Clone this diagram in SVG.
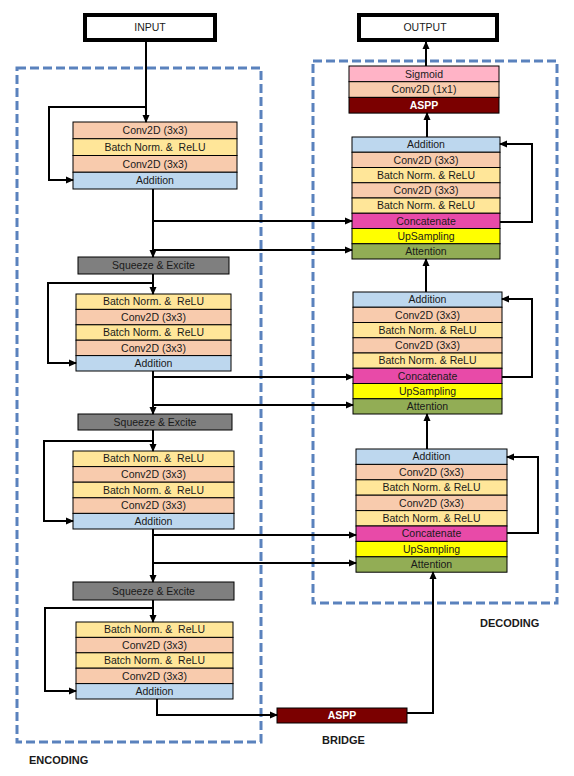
<svg xmlns="http://www.w3.org/2000/svg" width="574" height="776" viewBox="0 0 574 776">
<style>
text{font-family:"Liberation Sans",Arial,sans-serif;font-size:10.5px;fill:#1a1a1a;text-anchor:middle;white-space:pre}
.r{stroke:#000;stroke-width:1}
.conv{fill:#f8cbad}.bn{fill:#ffe699}.add{fill:#bdd7ee}.se{fill:#7f7f7f}.cat{fill:#e84aa8}.up{fill:#ffff00}.att{fill:#92ad55}.sig{fill:#ffb3c6}.aspp{fill:#7b0000}
.w{fill:#fff;font-weight:bold}
.lbl{font-weight:bold;font-size:11px;text-anchor:start}
.io{fill:#fff;stroke:#000;stroke-width:4}
.dash{fill:none;stroke:#5a82bd;stroke-width:3;stroke-dasharray:9 4}
.c{fill:none;stroke:#000;stroke-width:2;marker-end:url(#ah)}
.cn{fill:none;stroke:#000;stroke-width:2}
</style>
<defs>
<marker id="ah" markerUnits="userSpaceOnUse" markerWidth="8" markerHeight="8" viewBox="0 0 8 8" refX="7" refY="4" orient="auto">
<path d="M0,0.5 L8,4 L0,7.5 z" fill="#000"/>
</marker>
</defs>
<rect class="dash" x="17" y="68" width="244" height="674"/>
<rect class="dash" x="313" y="61" width="244" height="542"/>
<g id="input"><rect class="io" x="85" y="15" width="130" height="25"/><text x="150" y="31">INPUT</text></g>
<g id="output"><rect class="io" x="359" y="15" width="138" height="25"/><text x="425" y="31">OUTPUT</text></g>
<g id="enc1">
<rect class="r conv" x="73" y="122" width="164" height="16.75"/><text x="155" y="134">Conv2D (3x3)</text>
<rect class="r bn" x="73" y="138.75" width="164" height="16.75"/><text x="155" y="151">Batch Norm. &amp;  ReLU</text>
<rect class="r conv" x="73" y="155.5" width="164" height="16.75"/><text x="155" y="167.5">Conv2D (3x3)</text>
<rect class="r add" x="73" y="172.25" width="164" height="16.75"/><text x="155" y="184">Addition</text>
</g>
<g id="se1"><rect class="r se" x="78" y="257" width="151" height="17"/><text x="153.5" y="269">Squeeze &amp; Excite</text></g>
<g id="enc2">
<rect class="r bn" x="76" y="294" width="155" height="15.4"/><text x="153.5" y="305.3">Batch Norm. &amp;  ReLU</text>
<rect class="r conv" x="76" y="309.4" width="155" height="15.4"/><text x="153.5" y="320.7">Conv2D (3x3)</text>
<rect class="r bn" x="76" y="324.8" width="155" height="15.4"/><text x="153.5" y="336.1">Batch Norm. &amp;  ReLU</text>
<rect class="r conv" x="76" y="340.2" width="155" height="15.4"/><text x="153.5" y="351.5">Conv2D (3x3)</text>
<rect class="r add" x="76" y="355.6" width="155" height="15.4"/><text x="153.5" y="366.9">Addition</text>
</g>
<g id="se2"><rect class="r se" x="78" y="414" width="154" height="16"/><text x="155" y="425.5">Squeeze &amp; Excite</text></g>
<g id="enc3">
<rect class="r bn" x="73" y="451" width="161" height="15.6"/><text x="153.5" y="462.4">Batch Norm. &amp;  ReLU</text>
<rect class="r conv" x="73" y="466.6" width="161" height="15.6"/><text x="153.5" y="478">Conv2D (3x3)</text>
<rect class="r bn" x="73" y="482.2" width="161" height="15.6"/><text x="153.5" y="493.6">Batch Norm. &amp;  ReLU</text>
<rect class="r conv" x="73" y="497.8" width="161" height="15.6"/><text x="153.5" y="509.2">Conv2D (3x3)</text>
<rect class="r add" x="73" y="513.4" width="161" height="15.6"/><text x="153.5" y="524.8">Addition</text>
</g>
<g id="se3"><rect class="r se" x="73" y="582" width="161" height="18"/><text x="153.5" y="594.5">Squeeze &amp; Excite</text></g>
<g id="enc4">
<rect class="r bn" x="76" y="622" width="157" height="15.4"/><text x="154.5" y="633.3">Batch Norm. &amp;  ReLU</text>
<rect class="r conv" x="76" y="637.4" width="157" height="15.4"/><text x="154.5" y="648.7">Conv2D (3x3)</text>
<rect class="r bn" x="76" y="652.8" width="157" height="15.4"/><text x="154.5" y="664.1">Batch Norm. &amp;  ReLU</text>
<rect class="r conv" x="76" y="668.2" width="157" height="15.4"/><text x="154.5" y="679.5">Conv2D (3x3)</text>
<rect class="r add" x="76" y="683.6" width="157" height="15.4"/><text x="154.5" y="694.9">Addition</text>
</g>
<g id="bridge"><rect class="r aspp" x="277" y="708" width="130" height="15"/><text class="w" x="342" y="719">ASPP</text></g>
<g id="dectop">
<rect class="r sig" x="349" y="66" width="150" height="15.7"/><text x="424" y="77.5">Sigmoid</text>
<rect class="r conv" x="349" y="81.7" width="150" height="15.7"/><text x="424" y="93.2">Conv2D (1x1)</text>
<rect class="r aspp" x="349" y="97.4" width="150" height="15.7"/><text class="w" x="424" y="108.9">ASPP</text>
</g>
<g id="dec1">
<rect class="r add" x="352" y="137" width="148" height="15.25"/><text x="426" y="148.3">Addition</text>
<rect class="r conv" x="352" y="152.25" width="148" height="15.25"/><text x="426" y="163.5">Conv2D (3x3)</text>
<rect class="r bn" x="352" y="167.5" width="148" height="15.25"/><text x="426" y="178.8">Batch Norm. &amp; ReLU</text>
<rect class="r conv" x="352" y="182.75" width="148" height="15.25"/><text x="426" y="194">Conv2D (3x3)</text>
<rect class="r bn" x="352" y="198" width="148" height="15.25"/><text x="426" y="209.3">Batch Norm. &amp; ReLU</text>
<rect class="r cat" x="352" y="213.25" width="148" height="15.25"/><text x="426" y="224.5">Concatenate</text>
<rect class="r up" x="352" y="228.5" width="148" height="15.25"/><text x="426" y="239.8">UpSampling</text>
<rect class="r att" x="352" y="243.75" width="148" height="15.25"/><text x="426" y="255">Attention</text>
</g>
<g id="dec2">
<rect class="r add" x="353" y="292" width="149" height="15.25"/><text x="427.5" y="303.3">Addition</text>
<rect class="r conv" x="353" y="307.25" width="149" height="15.25"/><text x="427.5" y="318.5">Conv2D (3x3)</text>
<rect class="r bn" x="353" y="322.5" width="149" height="15.25"/><text x="427.5" y="333.8">Batch Norm. &amp; ReLU</text>
<rect class="r conv" x="353" y="337.75" width="149" height="15.25"/><text x="427.5" y="349">Conv2D (3x3)</text>
<rect class="r bn" x="353" y="353" width="149" height="15.25"/><text x="427.5" y="364.3">Batch Norm. &amp; ReLU</text>
<rect class="r cat" x="353" y="368.25" width="149" height="15.25"/><text x="427.5" y="379.5">Concatenate</text>
<rect class="r up" x="353" y="383.5" width="149" height="15.25"/><text x="427.5" y="394.8">UpSampling</text>
<rect class="r att" x="353" y="398.75" width="149" height="15.25"/><text x="427.5" y="410">Attention</text>
</g>
<g id="dec3">
<rect class="r add" x="356" y="449" width="151" height="15.4"/><text x="431.5" y="460.4">Addition</text>
<rect class="r conv" x="356" y="464.4" width="151" height="15.4"/><text x="431.5" y="475.8">Conv2D (3x3)</text>
<rect class="r bn" x="356" y="479.8" width="151" height="15.4"/><text x="431.5" y="491.2">Batch Norm. &amp; ReLU</text>
<rect class="r conv" x="356" y="495.2" width="151" height="15.4"/><text x="431.5" y="506.6">Conv2D (3x3)</text>
<rect class="r bn" x="356" y="510.6" width="151" height="15.4"/><text x="431.5" y="522">Batch Norm. &amp; ReLU</text>
<rect class="r cat" x="356" y="526" width="151" height="15.4"/><text x="431.5" y="537.4">Concatenate</text>
<rect class="r up" x="356" y="541.4" width="151" height="15.4"/><text x="431.5" y="552.8">UpSampling</text>
<rect class="r att" x="356" y="556.8" width="151" height="15.4"/><text x="431.5" y="568.2">Attention</text>
</g>
<g id="connectors">
<path class="c" d="M146,42 V122"/>
<path class="c" d="M146,107 H49 V180 H73"/>
<path class="c" d="M153,189 V257"/>
<path class="c" d="M153,221 H352"/>
<path class="c" d="M153,250 H352"/>
<path class="c" d="M153,274 V294"/>
<path class="c" d="M153,283 H48 V363 H76"/>
<path class="c" d="M153,371 V414"/>
<path class="c" d="M153,377 H353"/>
<path class="c" d="M153,405 H353"/>
<path class="c" d="M153,430 V451"/>
<path class="c" d="M153,441 H44 V521 H73"/>
<path class="c" d="M153,529 V582"/>
<path class="c" d="M153,535 H356"/>
<path class="c" d="M153,563 H356"/>
<path class="c" d="M153,600 V622"/>
<path class="c" d="M153,608 H45 V691 H76"/>
<path class="c" d="M157,699 V715 H277"/>
<path class="c" d="M407,713 H433 V572"/>
<path class="c" d="M427,449 V414"/>
<path class="c" d="M507,533 H538 V457 H507"/>
<path class="c" d="M426,292 V259"/>
<path class="c" d="M502,377 H532 V299 H502"/>
<path class="c" d="M427,137 V113"/>
<path class="c" d="M500,222 H532 V144 H500"/>
<path class="c" d="M426,66 V42"/>
</g>
<text class="lbl" x="29" y="764">ENCODING</text>
<text class="lbl" x="480" y="627">DECODING</text>
<text class="lbl" x="322" y="744">BRIDGE</text>
</svg>
